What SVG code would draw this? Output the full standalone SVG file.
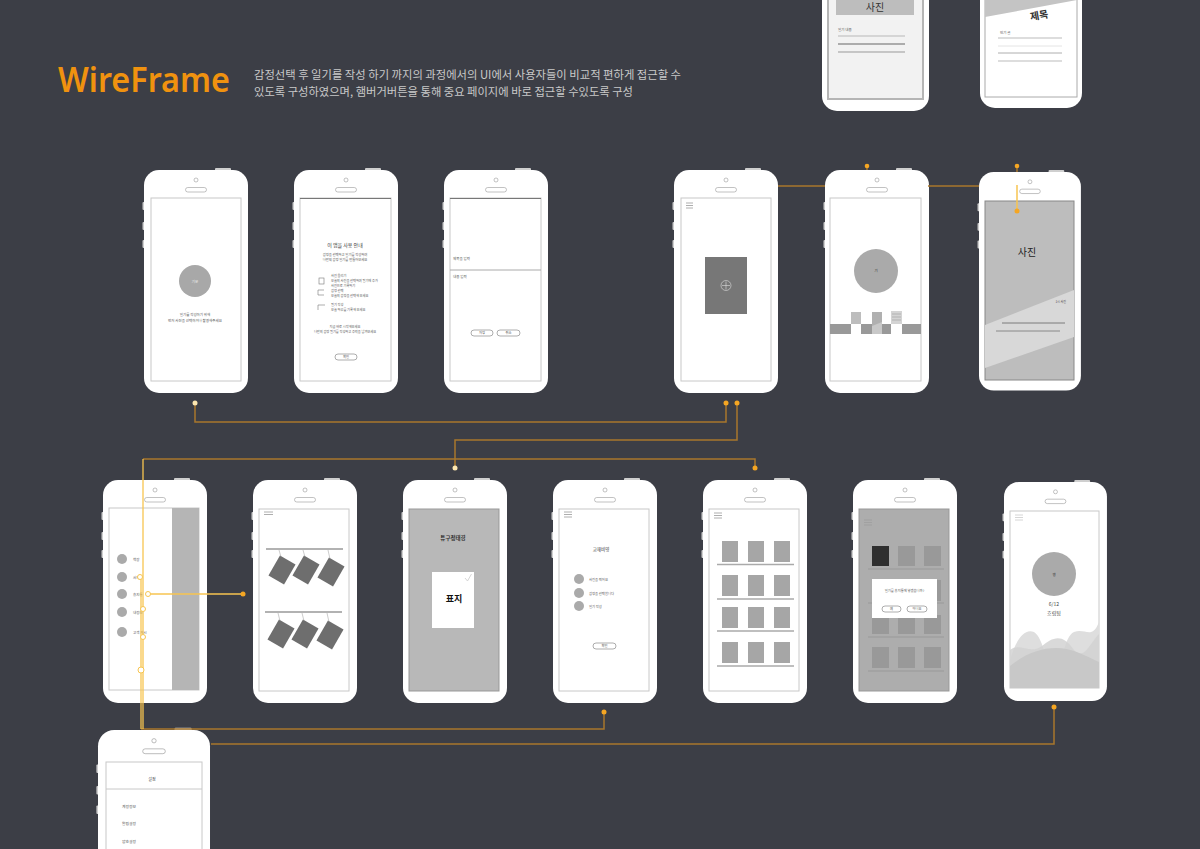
<svg xmlns="http://www.w3.org/2000/svg" xmlns:xlink="http://www.w3.org/1999/xlink" width="1200" height="849" viewBox="0 0 1200 849">
<style>
.t{font-family:"Noto Sans CJK KR","Noto Sans",sans-serif;fill:#555;}
.tc{text-anchor:middle;}
.scr{fill:#fff;stroke:#c8c8c8;stroke-width:1;}
.con{fill:none;stroke:#a8772c;stroke-width:1.5;}
.yel{fill:none;stroke:#f7c550;stroke-width:1.3;}
.dot{fill:#f5a623;}
.ring{fill:#fff;stroke:#f7c550;stroke-width:1;}
.ham{stroke:#999;stroke-width:0.8;}
.shelf{stroke:#aaa;stroke-width:1.5;}
.box{fill:#a6a6a6;}
</style>
<defs>
<g id="pf">
<rect x="-1.5" y="32" width="3" height="8" rx="1" fill="#cfcfcf"/>
<rect x="-1.5" y="52" width="3" height="8" rx="1" fill="#cfcfcf"/>
<rect x="-1.5" y="70" width="3" height="8" rx="1" fill="#cfcfcf"/>
<rect x="71" y="-2" width="16" height="4" rx="1" fill="#cfcfcf"/>
<rect x="0" y="0" width="104" height="223" rx="15" fill="#fff"/>
<circle cx="52" cy="10" r="2" fill="none" stroke="#999" stroke-width="0.6"/>
<rect x="41.5" y="17.5" width="21" height="4.5" rx="2.25" fill="none" stroke="#999" stroke-width="0.6"/>
</g>
</defs>
<rect width="1200" height="849" fill="#3c3e46"/>

<g id="title">
<text x="58" y="92" font-family="Noto Sans, Liberation Sans, sans-serif" font-size="35" font-weight="600" fill="#f0920f" textLength="172" lengthAdjust="spacingAndGlyphs">WireFrame</text>
<text x="254" y="79" class="t" font-size="11.5" style="fill:#c9c9c9" textLength="427" lengthAdjust="spacingAndGlyphs">감정선택 후 일기를 작성 하기 까지의 과정에서의 UI에서 사용자들이 비교적 편하게 접근할 수</text>
<text x="254" y="96" class="t" font-size="11.5" style="fill:#c9c9c9" textLength="379" lengthAdjust="spacingAndGlyphs">있도록 구성하였으며, 햄버거버튼을 통해 중요 페이지에 바로 접근할 수있도록 구성</text>
</g>

<!-- top-right partial phones -->
<g id="phone-top-a">
<rect x="822" y="-120" width="107" height="231" rx="15" fill="#fff"/>
<rect x="828" y="-100" width="95" height="199" fill="#f2f2f2" stroke="#b5b5b5" stroke-width="2"/>
<rect x="836" y="-20" width="78" height="35" fill="#bdbdbd"/>
<text x="875" y="11" class="t tc" font-size="10" style="fill:#333">사진</text>
<text x="838" y="31" class="t" font-size="3.5">일기 내용</text>
<line x1="838" y1="36" x2="905" y2="36" stroke="#aaa" stroke-width="0.8"/>
<line x1="838" y1="44" x2="905" y2="44" stroke="#666" stroke-width="1"/>
<line x1="838" y1="52" x2="905" y2="52" stroke="#999" stroke-width="1"/>
</g>
<g id="phone-top-b">
<rect x="980" y="-115" width="102" height="223" rx="15" fill="#fff"/>
<rect x="985" y="-100" width="92" height="197" fill="#fff" stroke="#aaa" stroke-width="1"/>
<polygon points="985,-100 1077,-100 1077,0 985,17" fill="#c4c4c4"/>
<text x="1039" y="19" class="t tc" font-size="10" font-weight="bold" style="fill:#333" transform="rotate(-10 1039 15)">제목</text>
<text x="1000" y="34" class="t" font-size="3.5">인기 글</text>
<line x1="998" y1="38" x2="1062" y2="38" stroke="#aaa" stroke-width="0.8"/>
<line x1="998" y1="46" x2="1062" y2="46" stroke="#ddd" stroke-width="0.8"/>
<line x1="998" y1="53" x2="1062" y2="53" stroke="#999" stroke-width="0.8"/>
<line x1="998" y1="61" x2="1062" y2="61" stroke="#aaa" stroke-width="0.8"/>
</g>

<!-- row 1 -->
<g id="phone-1">
<use href="#pf" x="144" y="170"/>
<rect x="151" y="198" width="90" height="183" class="scr"/>
<circle cx="195" cy="281" r="16" fill="#a8a8a8"/>
<text x="195" y="282.5" class="t tc" font-size="3.5" style="fill:#eee">기분</text>
<text x="195" y="316" class="t tc" font-size="3.5">일기를 작성하기 위해</text>
<text x="195" y="322" class="t tc" font-size="3.5">먼저 사진을 선택하거나 촬영해주세요</text>
</g>

<g id="phone-2">
<use href="#pf" x="294" y="170"/>
<rect x="300" y="198" width="91" height="183" class="scr"/>
<line x1="300" y1="198.5" x2="391" y2="198.5" stroke="#777" stroke-width="1"/>
<text x="345" y="247" class="t tc" font-size="5" style="fill:#333">이 앱을 사용 안내</text>
<text x="345" y="256" class="t tc" font-size="3.3">감정을 선택하고 일기를 작성하여</text>
<text x="345" y="261" class="t tc" font-size="3.3">나만의 감정 일기를 만들어보세요</text>
<rect x="319" y="278" width="5" height="6" fill="none" stroke="#777" stroke-width="0.6"/>
<text x="331" y="277" class="t" font-size="3.2">사진 올리기</text>
<text x="331" y="282" class="t" font-size="3.2">오늘의 사진을 선택하여 일기에 추가</text>
<text x="331" y="286.5" class="t" font-size="3.2">사진으로 기록하기</text>
<polyline points="324,290 318,290 318,295 324,295" fill="none" stroke="#777" stroke-width="0.6"/>
<text x="331" y="292" class="t" font-size="3.2">감정 선택</text>
<text x="331" y="297" class="t" font-size="3.2">오늘의 감정을 선택해 보세요</text>
<polyline points="318,310 318,305 325,305" fill="none" stroke="#777" stroke-width="0.6"/>
<text x="331" y="306" class="t" font-size="3.2">일기 작성</text>
<text x="331" y="311" class="t" font-size="3.2">오늘 하루를 기록해 보세요</text>
<text x="345" y="328" class="t tc" font-size="3.2">지금 바로 시작해보세요</text>
<text x="345" y="333" class="t tc" font-size="3.2">나만의 감정 일기를 작성하고 추억을 남겨보세요</text>
<rect x="335" y="354" width="22" height="6" rx="3" fill="#fff" stroke="#777" stroke-width="0.6"/>
<text x="346" y="358.3" class="t tc" font-size="3.3">확인</text>
</g>

<g id="phone-3">
<use href="#pf" x="444" y="170"/>
<rect x="450" y="198" width="91" height="183" class="scr"/>
<line x1="450" y1="198.5" x2="541" y2="198.5" stroke="#777" stroke-width="1"/>
<text x="453" y="260" class="t" font-size="3.5">제목을 입력</text>
<line x1="450" y1="270" x2="541" y2="270" stroke="#aaa" stroke-width="1"/>
<text x="453" y="278" class="t" font-size="3.5">내용 입력</text>
<rect x="471" y="330" width="22" height="6" rx="3" fill="#fff" stroke="#777" stroke-width="0.6"/>
<text x="482" y="334.3" class="t tc" font-size="3.3">저장</text>
<rect x="497" y="330" width="23" height="6" rx="3" fill="#fff" stroke="#777" stroke-width="0.6"/>
<text x="508.5" y="334.3" class="t tc" font-size="3.3">취소</text>
</g>

<g id="phone-4">
<use href="#pf" x="674" y="170"/>
<rect x="681" y="198" width="90" height="183" class="scr"/>
<line x1="686" y1="203" x2="693" y2="203" class="ham"/>
<line x1="686" y1="205.5" x2="693" y2="205.5" class="ham"/>
<line x1="686" y1="208" x2="693" y2="208" class="ham"/>
<rect x="705" y="257" width="42" height="57" fill="#777"/>
<circle cx="726" cy="285.5" r="5" fill="none" stroke="#ddd" stroke-width="0.6"/>
<line x1="726" y1="281.5" x2="726" y2="289.5" stroke="#ddd" stroke-width="0.6"/>
<line x1="722" y1="285.5" x2="730" y2="285.5" stroke="#ddd" stroke-width="0.6"/>
</g>

<g id="phone-5">
<use href="#pf" x="825" y="170"/>
<rect x="830" y="198" width="91" height="183" class="scr"/>
<circle cx="876" cy="271" r="22" fill="#aaa"/>
<text x="876" y="272" class="t tc" font-size="3.5" style="fill:#333">기</text>
<rect x="830" y="324" width="91" height="10" fill="#999"/>
<rect x="851" y="312" width="10" height="12" fill="#bdbdbd"/>
<rect x="851" y="324" width="10" height="10" fill="#fff"/>
<rect x="872" y="312" width="10" height="22" fill="#b0b0b0"/>
<polygon points="872,326 882,322 882,334 872,334" fill="#c8c8c8"/>
<rect x="891" y="311" width="11" height="13" fill="#d4d4d4"/>
<line x1="892" y1="314" x2="901" y2="314" stroke="#aaa" stroke-width="0.8"/>
<line x1="892" y1="317" x2="901" y2="317" stroke="#aaa" stroke-width="0.8"/>
<line x1="892" y1="320" x2="901" y2="320" stroke="#aaa" stroke-width="0.8"/>
<rect x="891" y="324" width="11" height="10" fill="#fff"/>
</g>

<g id="phone-6">
<use href="#pf" transform="translate(979 172) scale(0.98)"/>
<rect x="985" y="201" width="89" height="179" fill="#bdbdbd" stroke="#888" stroke-width="1"/>
<polygon points="985,325 1074,290 1074,337 985,368" fill="#d8d8d8"/>
<text x="1027" y="256" class="t tc" font-size="10" style="fill:#222">사진</text>
<text x="1066" y="303" class="t" font-size="3" style="fill:#444" text-anchor="end">1시 사진</text>
<line x1="1002" y1="323" x2="1065" y2="323" stroke="#666" stroke-width="0.8"/>
<line x1="996" y1="331" x2="1060" y2="331" stroke="#777" stroke-width="0.8"/>
</g>

<!-- row 2 -->
<g id="phone-7">
<use href="#pf" x="103" y="480"/>
<rect x="109" y="508" width="90" height="182" class="scr"/>
<rect x="172" y="508" width="27" height="182" fill="#b5b5b5"/>
<circle cx="122" cy="559" r="5" fill="#aaa"/>
<circle cx="122" cy="577" r="5" fill="#aaa"/>
<circle cx="122" cy="594" r="5" fill="#aaa"/>
<circle cx="122" cy="612" r="5" fill="#aaa"/>
<circle cx="122" cy="632" r="5" fill="#aaa"/>
<text x="133" y="560.5" class="t" font-size="3.5">책장</text>
<text x="133" y="578.5" class="t" font-size="3.5">서재</text>
<text x="133" y="595.5" class="t" font-size="3.5">휴지통</text>
<text x="133" y="613.5" class="t" font-size="3.5">내정보</text>
<text x="133" y="633.5" class="t" font-size="3.5">고객 게시</text>
</g>

<g id="phone-8">
<use href="#pf" x="253" y="480"/>
<rect x="259" y="509" width="90" height="182" class="scr"/>
<line x1="264" y1="512" x2="273" y2="512" class="ham"/>
<line x1="264" y1="514.5" x2="273" y2="514.5" class="ham"/>
<line x1="266" y1="549" x2="343" y2="549" stroke="#999" stroke-width="1.5"/>
<line x1="265" y1="612" x2="342" y2="612" stroke="#999" stroke-width="1.5"/>
<g fill="#6e6e6e">
<rect x="273" y="558.5" width="18" height="23" transform="rotate(30 282 570)"/>
<rect x="297" y="558.5" width="18" height="23" transform="rotate(30 306 570)"/>
<rect x="322" y="560.5" width="18" height="23" transform="rotate(30 331 572)"/>
<rect x="272" y="622.5" width="18" height="23" transform="rotate(30 281 634)"/>
<rect x="296" y="622.5" width="18" height="23" transform="rotate(30 305 634)"/>
<rect x="321" y="623.5" width="18" height="23" transform="rotate(30 330 635)"/>
</g>
<g stroke="#999" stroke-width="0.5">
<line x1="279" y1="550" x2="281" y2="557"/><line x1="303" y1="550" x2="305" y2="557"/><line x1="328" y1="550" x2="330" y2="559"/>
<line x1="278" y1="613" x2="280" y2="621"/><line x1="302" y1="613" x2="304" y2="621"/><line x1="327" y1="613" x2="329" y2="622"/>
</g>
</g>

<g id="phone-9">
<use href="#pf" x="403" y="480"/>
<rect x="409" y="509" width="90" height="182" fill="#b8b8b8" stroke="#999" stroke-width="1"/>
<text x="453" y="540" class="t tc" font-size="5.5" font-weight="bold" style="fill:#333">튜구정태경</text>
<rect x="432" y="572" width="42" height="56" fill="#fff"/>
<text x="454" y="602" class="t tc" font-size="9" font-weight="bold" style="fill:#111">표지</text>
<polyline points="465,578 467.5,581 471.5,574" fill="none" stroke="#ccc" stroke-width="0.8"/>
</g>

<g id="phone-10">
<use href="#pf" x="553" y="480"/>
<rect x="559" y="509" width="90" height="182" class="scr"/>
<line x1="564" y1="512" x2="572" y2="512" class="ham"/>
<line x1="564" y1="514.5" x2="572" y2="514.5" class="ham"/>
<line x1="564" y1="517" x2="572" y2="517" class="ham"/>
<text x="601" y="551" class="t tc" font-size="4.5" style="fill:#333">교재비영</text>
<circle cx="579" cy="579" r="5" fill="#aaa"/>
<circle cx="579" cy="593" r="5" fill="#aaa"/>
<circle cx="579" cy="606" r="5" fill="#aaa"/>
<text x="589" y="580.5" class="t" font-size="3.3">사진을 찍어요</text>
<text x="589" y="594.5" class="t" font-size="3.3">감정을 선택합니다</text>
<text x="589" y="607.5" class="t" font-size="3.3">일기 작성</text>
<rect x="593" y="643" width="23" height="6" rx="3" fill="#fff" stroke="#777" stroke-width="0.6"/>
<text x="604.5" y="647.3" class="t tc" font-size="3.3">확인</text>
</g>

<g id="phone-11">
<use href="#pf" x="703" y="480"/>
<rect x="709" y="509" width="90" height="182" class="scr"/>
<line x1="714" y1="513" x2="722" y2="513" class="ham"/>
<line x1="714" y1="515.5" x2="722" y2="515.5" class="ham"/>
<line x1="714" y1="518" x2="722" y2="518" class="ham"/>
<g class="box">
<rect x="722" y="541" width="16" height="21"/><rect x="748" y="541" width="16" height="21"/><rect x="774" y="541" width="16" height="21"/>
<rect x="722" y="575" width="16" height="21"/><rect x="748" y="575" width="16" height="21"/><rect x="774" y="575" width="16" height="21"/>
<rect x="722" y="607" width="16" height="21"/><rect x="748" y="607" width="16" height="21"/><rect x="774" y="607" width="16" height="21"/>
<rect x="722" y="642" width="16" height="21"/><rect x="748" y="642" width="16" height="21"/><rect x="774" y="642" width="16" height="21"/>
</g>
<line x1="717" y1="564.5" x2="794" y2="564.5" class="shelf"/>
<line x1="717" y1="599" x2="794" y2="599" class="shelf"/>
<line x1="717" y1="631" x2="794" y2="631" class="shelf"/>
<line x1="717" y1="666" x2="794" y2="666" class="shelf"/>
</g>

<g id="phone-12">
<use href="#pf" x="853" y="480"/>
<rect x="859" y="509" width="90" height="182" fill="#adadad" stroke="#999" stroke-width="1"/>
<line x1="864" y1="520" x2="872" y2="520" stroke="#999" stroke-width="0.6"/>
<line x1="864" y1="522.5" x2="872" y2="522.5" stroke="#999" stroke-width="0.6"/>
<line x1="864" y1="525" x2="872" y2="525" stroke="#999" stroke-width="0.6"/>
<rect x="872" y="546" width="17" height="20" fill="#2f2f2f"/>
<g fill="#999">
<rect x="898" y="546" width="17" height="20"/><rect x="924" y="546" width="17" height="20"/>
<rect x="872" y="580" width="17" height="21"/><rect x="898" y="580" width="17" height="21"/><rect x="924" y="580" width="17" height="21"/>
<rect x="872" y="615" width="17" height="19"/><rect x="898" y="615" width="17" height="19"/><rect x="924" y="615" width="17" height="19"/>
<rect x="872" y="647" width="17" height="21"/><rect x="898" y="647" width="17" height="21"/><rect x="924" y="647" width="17" height="21"/>
</g>
<g stroke="#999" stroke-width="1.2">
<line x1="868" y1="569" x2="944" y2="569"/><line x1="868" y1="603" x2="944" y2="603"/>
<line x1="868" y1="637" x2="944" y2="637"/><line x1="868" y1="671" x2="944" y2="671"/>
</g>
<rect x="872" y="579" width="65" height="39" fill="#fff"/>
<text x="904.5" y="592" class="t tc" font-size="3.3">일기를 휴지통에 넣겠습니까?</text>
<rect x="882" y="606" width="19" height="6" rx="3" fill="#fff" stroke="#777" stroke-width="0.6"/>
<text x="891.5" y="610.3" class="t tc" font-size="3.2">예</text>
<rect x="907" y="606" width="20" height="6" rx="3" fill="#fff" stroke="#777" stroke-width="0.6"/>
<text x="917" y="610.3" class="t tc" font-size="3.2">아니요</text>
</g>

<g id="phone-13">
<use href="#pf" transform="translate(1004 482) scale(0.99 0.982)"/>
<rect x="1010" y="511" width="89" height="177" class="scr"/>
<line x1="1015" y1="515" x2="1023" y2="515" stroke="#ccc" stroke-width="0.8"/>
<line x1="1015" y1="517.5" x2="1023" y2="517.5" stroke="#ccc" stroke-width="0.8"/>
<line x1="1015" y1="520" x2="1023" y2="520" stroke="#ccc" stroke-width="0.8"/>
<circle cx="1054" cy="574" r="22" fill="#aaa"/>
<text x="1054" y="576" class="t tc" font-size="3.5" style="fill:#333">행</text>
<text x="1054" y="606" class="t tc" font-size="5" style="fill:#444">6/12</text>
<text x="1054" y="615" class="t tc" font-size="5" style="fill:#444">흐림됨</text>
<path d="M1010,660 C1016,640 1024,628 1034,632 C1044,638 1046,668 1054,668 C1062,668 1064,636 1074,632 C1086,628 1092,640 1099,622 L1099,688 L1010,688 Z" fill="#dedede"/>
<path d="M1010,650 C1020,642 1030,655 1042,646 C1052,638 1062,632 1074,650 C1084,662 1092,640 1099,634 L1099,688 L1010,688 Z" fill="#d2d2d2" opacity="0.85"/>
<path d="M1010,666 C1025,654 1040,648 1056,648 C1072,648 1086,656 1099,662 L1099,688 L1010,688 Z" fill="#c8c8c8"/>
</g>

<g id="phone-14">
<use href="#pf" transform="translate(98 730) scale(1.077)"/>
<rect x="106" y="762" width="96" height="100" class="scr"/>
<line x1="106" y1="789" x2="202" y2="789" stroke="#c8c8c8" stroke-width="1"/>
<text x="152" y="781" class="t tc" font-size="4" style="fill:#333">설정</text>
<text x="122" y="808" class="t" font-size="3.8">계정정보</text>
<text x="122" y="825" class="t" font-size="3.8">알림설정</text>
<text x="122" y="843" class="t" font-size="3.8">암호설정</text>
</g>

<g id="connectors">
<polyline points="195,403 195,422 726,422 726,403" class="con"/>
<circle cx="195" cy="403" r="2.5" fill="#fde7b0"/>
<circle cx="726" cy="403" r="2.5" class="dot"/>
<polyline points="737,403 737,440 455,440 455,468" class="con"/>
<circle cx="737" cy="403" r="2.5" class="dot"/>
<circle cx="455" cy="468" r="2.5" fill="#fde7b0"/>
<polyline points="143,459 755,459 755,468" class="con"/>
<circle cx="755" cy="468" r="2.5" class="dot"/>
<polyline points="604,712 604,729 141,729" class="con"/>
<circle cx="604" cy="712" r="2.5" class="dot"/>
<polyline points="1054,707 1054,744 211,744" class="con"/>
<circle cx="1054" cy="707" r="2.5" class="dot"/>
<line x1="778" y1="186" x2="825" y2="186" class="con"/>
<line x1="928" y1="186" x2="979" y2="186" class="con"/>
<line x1="867" y1="166" x2="867" y2="170" class="con"/>
<circle cx="867" cy="166" r="2.3" class="dot"/>
<line x1="1017" y1="166" x2="1017" y2="172" class="con"/>
<circle cx="1017" cy="166" r="2.3" class="dot"/>
<line x1="1017" y1="185" x2="1017" y2="211" stroke="#f7c550" stroke-width="1.5"/>
<circle cx="1017" cy="211" r="2.5" class="dot"/>
<line x1="143" y1="459" x2="143" y2="729" class="yel"/>
<line x1="141" y1="577" x2="141" y2="729" class="yel"/>
<line x1="148" y1="594" x2="243" y2="594" class="yel"/>
<circle cx="243" cy="594" r="2.5" class="dot"/>
<circle cx="140" cy="577" r="2.5" class="ring"/>
<circle cx="148" cy="594" r="2.5" class="ring"/>
<circle cx="143" cy="609" r="2.5" class="ring"/>
<circle cx="143" cy="637" r="2.5" class="ring"/>
<circle cx="141" cy="670" r="3" class="ring"/>
</g>
</svg>
